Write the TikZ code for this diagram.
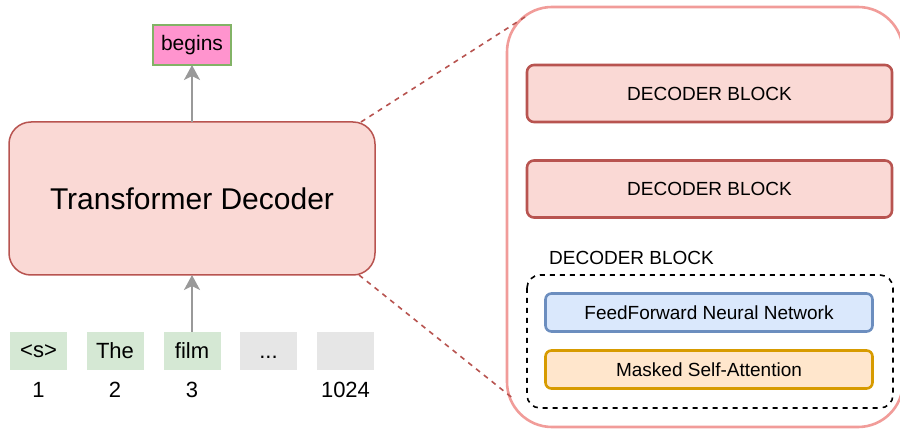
\documentclass[tikz,border=0pt]{standalone}
\usepackage{fontspec}
\setmainfont{Liberation Sans}
\usetikzlibrary{arrows.meta}
\definecolor{redfill}{HTML}{FAD9D5}
\definecolor{redline}{HTML}{B85450}
\definecolor{outerline}{HTML}{F19C99}
\definecolor{greenfill}{HTML}{D5E8D4}
\definecolor{greenline}{HTML}{82B366}
\definecolor{grayfill}{HTML}{E6E6E6}
\definecolor{pinkfill}{HTML}{FF94CE}
\definecolor{bluefill}{HTML}{DAE8FC}
\definecolor{blueline}{HTML}{6C8EBF}
\definecolor{orangefill}{HTML}{FFE6CC}
\definecolor{orangeline}{HTML}{D79B00}
\definecolor{arrowgray}{HTML}{999999}
\tikzset{
  box/.style={rectangle, inner sep=0pt, outer sep=0pt, align=center},
  tokbox/.style={box, fill=greenfill, minimum width=57pt, minimum height=38pt, font=\fontsize{22}{24}\selectfont},
  emptybox/.style={tokbox, fill=grayfill},
  numlabel/.style={inner sep=0pt, font=\fontsize{22}{24}\selectfont},
  decblock/.style={box, rounded corners=7pt, draw=redline, fill=redfill, line width=2.6pt, minimum width=365pt, minimum height=57pt, font=\fontsize{19}{21}\selectfont},
  subblock/.style={box, rounded corners=6pt, line width=2.6pt, minimum width=327pt, minimum height=38pt, font=\fontsize{19}{21}\selectfont},
  flowarrow/.style={draw=arrowgray, line width=2.2pt, -{Stealth[length=15pt, width=16pt, inset=4pt]}},
  zoomline/.style={draw=redline, line width=1.6pt, dashed, dash pattern=on 5pt off 5pt},
}
\begin{document}
\begin{tikzpicture}[x=1pt, y=-1pt]
\useasboundingbox (0,0) rectangle (900,430);
\fill[white] (0,0) rectangle (900,430);

% outer zoom box
\draw[outerline, line width=2.6pt, rounded corners=45pt] (507,7) rectangle (903,427);

% Transformer decoder
\node[box, rounded corners=22pt, draw=redline, fill=redfill, line width=1.5pt,
      minimum width=366pt, minimum height=153pt, font=\fontsize{30}{32}\selectfont]
      (td) at (192,198.5) {Transformer Decoder};

% output token
\node[box, draw=greenline, fill=pinkfill, line width=1.5pt, minimum width=78pt, minimum height=40pt,
      font=\fontsize{21}{23}\selectfont] (begins) at (192,45) {begins};

% input tokens
\node[tokbox] (t1) at (38.5,351) {<s>};
\node[tokbox] (t2) at (115,351) {The};
\node[tokbox] (t3) at (192,351) {film};
\node[emptybox] (t4) at (268.5,351) {\smash{\raisebox{-8pt}{...}}};
\node[emptybox] (t5) at (345.5,351) {};

\node[numlabel] (n1) at (38.5,390) {1};
\node[numlabel] (n2) at (115,390) {2};
\node[numlabel] (n3) at (192,390) {3};
\node[numlabel] (n5) at (345.5,390) {1024};

% arrows
\draw[flowarrow] (t3.north) -- (td.south);
\draw[flowarrow] (td.north) -- (begins.south);

% zoom lines
\coordinate (zt) at (525,17);
\coordinate (zb) at (515,400);
\draw[zoomline] (td.north east) ++(-14,0) -- (zt);
\draw[zoomline] (td.south east) ++(-16,0) -- (zb);

% decoder blocks
\node[decblock] (d1) at (709.5,93.5) {DECODER BLOCK};
\node[decblock] (d2) at (709.5,189) {DECODER BLOCK};

\node[anchor=west, inner sep=0pt, font=\fontsize{19}{21}\selectfont] (dl) at (549,258) {DECODER BLOCK};

\draw[black, line width=1.6pt, dash pattern=on 5pt off 5pt, rounded corners=13pt] (527,275) rectangle (893,408);
\node[subblock, draw=blueline, fill=bluefill] (ff) at (709,312.5) {FeedForward Neural Network};
\node[subblock, draw=orangeline, fill=orangefill] (msa) at (709,369.5) {Masked Self-Attention};
\end{tikzpicture}
\end{document}
